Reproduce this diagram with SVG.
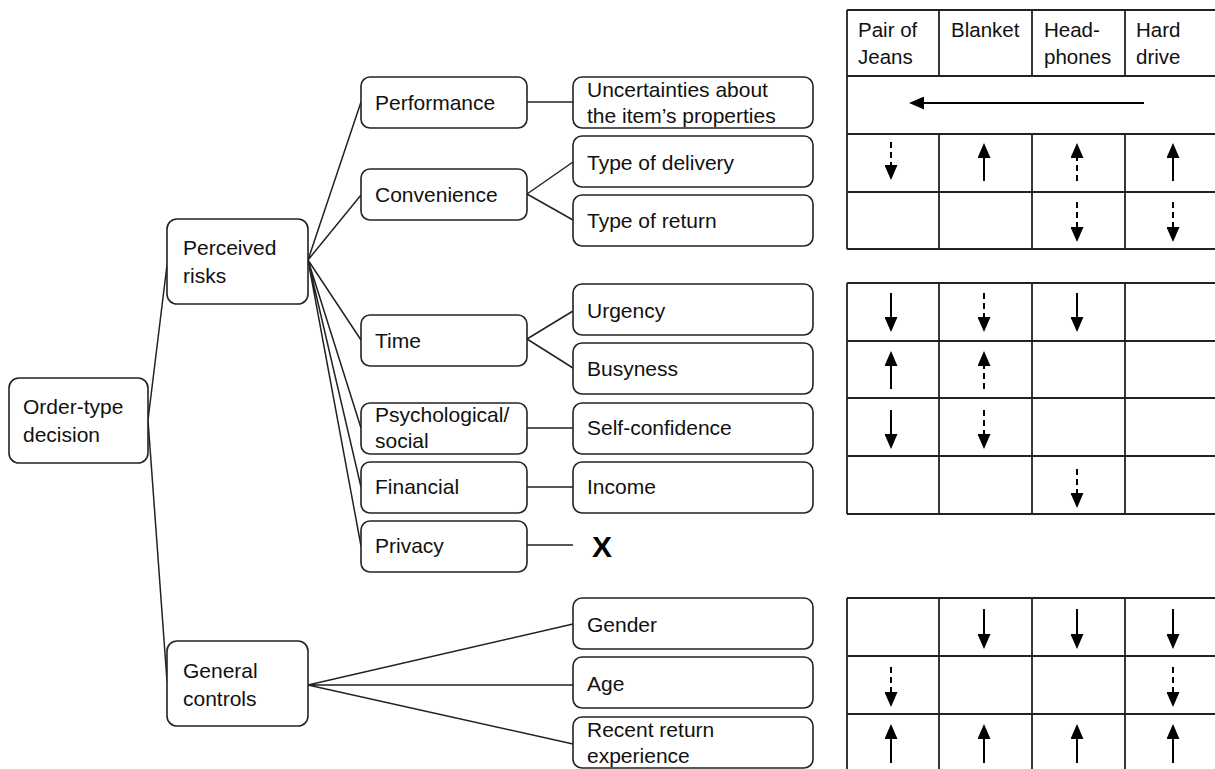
<svg xmlns="http://www.w3.org/2000/svg" width="1215" height="769" viewBox="0 0 1215 769">
<style>
.box{fill:#fff;stroke:#222;stroke-width:1.6}
.t{font-family:"Liberation Sans",Arial,sans-serif;font-size:21px;fill:#111}
.th{font-family:"Liberation Sans",Arial,sans-serif;font-size:20.5px;fill:#111}
.c{stroke:#222;stroke-width:1.5;fill:none}
.g{stroke:#222;stroke-width:1.8;fill:none}
.a{stroke:#000;stroke-width:2;fill:none;marker-end:url(#ah)}
.d{stroke:#000;stroke-width:2;fill:none;stroke-dasharray:6 4;marker-end:url(#ah)}
</style>
<defs>
<marker id="ah" markerUnits="userSpaceOnUse" markerWidth="15" markerHeight="13" viewBox="0 0 15 13" refX="1" refY="6.5" orient="auto">
<path d="M0,0 L15,6.5 L0,13 z" fill="#000"/>
</marker>
</defs>
<rect width="1215" height="769" fill="#fff"/>

<g id="connectors">
<path class="c" d="M148,420 L167,265 M148,420 L167,681"/>
<path class="c" d="M308,260 L361,102 M308,260 L361,195 M308,260 L361,340 M308,260 L361,428 M308,260 L361,487 M308,260 L361,546"/>
<path class="c" d="M527,102 L573,102"/>
<path class="c" d="M527,194 L573,162 M527,194 L573,220"/>
<path class="c" d="M527,339 L573,311 M527,339 L573,368"/>
<path class="c" d="M527,428 L573,428 M527,487 L573,487 M527,545 L573,545"/>
<path class="c" d="M308,685 L573,624 M308,685 L573,685 M308,685 L573,744"/>
</g>

<g id="n-order"><rect class="box" x="9" y="378" width="139" height="85" rx="10"/><text class="t" x="23" y="414">Order-type</text><text class="t" x="23" y="442">decision</text></g>
<g id="n-perceived"><rect class="box" x="167" y="219" width="141" height="85" rx="10"/><text class="t" x="183" y="255">Perceived</text><text class="t" x="183" y="283">risks</text></g>
<g id="n-general"><rect class="box" x="167" y="641" width="141" height="85" rx="10"/><text class="t" x="183" y="678">General</text><text class="t" x="183" y="706">controls</text></g>

<g id="n-performance"><rect class="box" x="361" y="77" width="166" height="51" rx="9"/><text class="t" x="375" y="110">Performance</text></g>
<g id="n-convenience"><rect class="box" x="361" y="169" width="166" height="51" rx="9"/><text class="t" x="375" y="202">Convenience</text></g>
<g id="n-time"><rect class="box" x="361" y="315" width="166" height="51" rx="9"/><text class="t" x="375" y="348">Time</text></g>
<g id="n-psych"><rect class="box" x="361" y="403" width="166" height="51" rx="9"/><text class="t" x="375" y="422">Psychological/</text><text class="t" x="375" y="448">social</text></g>
<g id="n-financial"><rect class="box" x="361" y="462" width="166" height="51" rx="9"/><text class="t" x="375" y="494">Financial</text></g>
<g id="n-privacy"><rect class="box" x="361" y="521" width="166" height="51" rx="9"/><text class="t" x="375" y="553">Privacy</text></g>

<g id="n-uncert"><rect class="box" x="573" y="77" width="240" height="51" rx="9"/><text class="t" x="587" y="97">Uncertainties about</text><text class="t" x="587" y="123">the item’s properties</text></g>
<g id="n-delivery"><rect class="box" x="573" y="136" width="240" height="51" rx="9"/><text class="t" x="587" y="170">Type of delivery</text></g>
<g id="n-return"><rect class="box" x="573" y="195" width="240" height="51" rx="9"/><text class="t" x="587" y="228">Type of return</text></g>
<g id="n-urgency"><rect class="box" x="573" y="284" width="240" height="51" rx="9"/><text class="t" x="587" y="318">Urgency</text></g>
<g id="n-busyness"><rect class="box" x="573" y="343" width="240" height="51" rx="9"/><text class="t" x="587" y="376">Busyness</text></g>
<g id="n-selfconf"><rect class="box" x="573" y="403" width="240" height="51" rx="9"/><text class="t" x="587" y="435">Self-confidence</text></g>
<g id="n-income"><rect class="box" x="573" y="462" width="240" height="51" rx="9"/><text class="t" x="587" y="494">Income</text></g>
<g id="n-x"><text x="592" y="557" font-family="Liberation Sans,Arial,sans-serif" font-size="30" font-weight="bold" fill="#000">X</text></g>
<g id="n-gender"><rect class="box" x="573" y="598" width="240" height="51" rx="9"/><text class="t" x="587" y="632">Gender</text></g>
<g id="n-age"><rect class="box" x="573" y="657" width="240" height="51" rx="9"/><text class="t" x="587" y="691">Age</text></g>
<g id="n-recent"><rect class="box" x="573" y="717" width="240" height="51" rx="9"/><text class="t" x="587" y="737">Recent return</text><text class="t" x="587" y="763">experience</text></g>

<g id="table1">
<path class="g" d="M847,10 H1218 M847,76 H1218 M847,134 H1218 M847,192 H1218 M847,249 H1218"/>
<path class="g" d="M847,10 V249 M939,10 V76 M1032,10 V76 M1125,10 V76 M939,134 V249 M1032,134 V249 M1125,134 V249"/>
<text class="th" x="858" y="37">Pair of</text><text class="th" x="858" y="64">Jeans</text>
<text class="th" x="951" y="37">Blanket</text>
<text class="th" x="1044" y="37">Head-</text><text class="th" x="1044" y="64">phones</text>
<text class="th" x="1136" y="37">Hard</text><text class="th" x="1136" y="64">drive</text>
<line class="a" x1="1144" y1="103" x2="923" y2="103"/>
<line class="d" x1="891" y1="142" x2="891" y2="166"/>
<line class="a" x1="984" y1="181" x2="984" y2="157"/>
<line class="d" x1="1077" y1="181" x2="1077" y2="157"/>
<line class="a" x1="1173" y1="181" x2="1173" y2="157"/>
<line class="d" x1="1077" y1="202" x2="1077" y2="228"/>
<line class="d" x1="1173" y1="202" x2="1173" y2="228"/>
</g>

<g id="table2">
<path class="g" d="M847,283 H1218 M847,341 H1218 M847,398 H1218 M847,456 H1218 M847,514 H1218"/>
<path class="g" d="M847,283 V514 M939,283 V514 M1032,283 V514 M1125,283 V514"/>
<line class="a" x1="891" y1="293" x2="891" y2="318"/>
<line class="d" x1="984" y1="293" x2="984" y2="318"/>
<line class="a" x1="1077" y1="293" x2="1077" y2="318"/>
<line class="a" x1="891" y1="389" x2="891" y2="365"/>
<line class="d" x1="984" y1="389" x2="984" y2="365"/>
<line class="a" x1="891" y1="410" x2="891" y2="435"/>
<line class="d" x1="984" y1="410" x2="984" y2="435"/>
<line class="d" x1="1077" y1="469" x2="1077" y2="494"/>
</g>

<g id="table3">
<path class="g" d="M847,598 H1218 M847,656 H1218 M847,714 H1218"/>
<path class="g" d="M847,598 V772 M939,598 V772 M1032,598 V772 M1125,598 V772"/>
<line class="a" x1="984" y1="609" x2="984" y2="635"/>
<line class="a" x1="1077" y1="609" x2="1077" y2="635"/>
<line class="a" x1="1173" y1="609" x2="1173" y2="635"/>
<line class="d" x1="891" y1="667" x2="891" y2="693"/>
<line class="d" x1="1173" y1="667" x2="1173" y2="693"/>
<line class="a" x1="891" y1="763" x2="891" y2="738"/>
<line class="a" x1="984" y1="763" x2="984" y2="738"/>
<line class="a" x1="1077" y1="763" x2="1077" y2="738"/>
<line class="a" x1="1173" y1="763" x2="1173" y2="738"/>
</g>
</svg>
